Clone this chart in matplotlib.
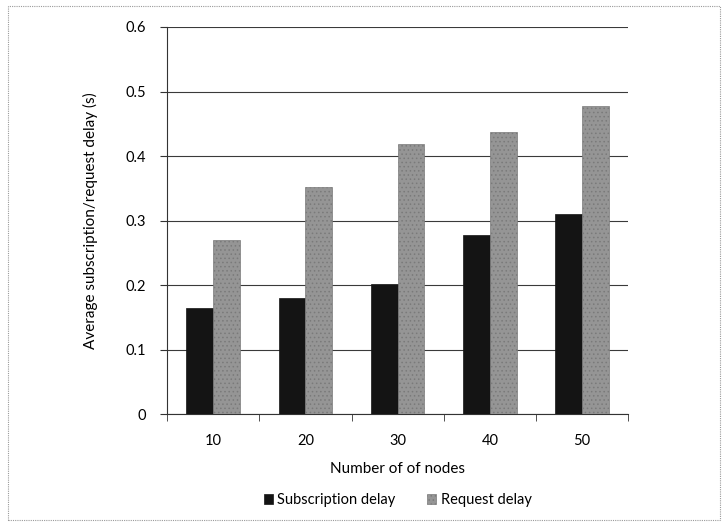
import matplotlib.pyplot as plt
import numpy as np
from matplotlib.patches import Rectangle

categories = ["10", "20", "30", "40", "50"]
subscription_delay = [0.165, 0.180, 0.202, 0.278, 0.310]
request_delay = [0.270, 0.352, 0.418, 0.438, 0.478]
y_ticks = [0, 0.1, 0.2, 0.3, 0.4, 0.5, 0.6]
y_tick_labels = ["0", "0.1", "0.2", "0.3", "0.4", "0.5", "0.6"]

plt.rcParams['font.family'] = ['Lato', 'DejaVu Sans']
plt.rcParams['hatch.color'] = '#6a6a6a'
plt.rcParams['hatch.linewidth'] = 0.6

fig = plt.figure(figsize=(7.23, 5.29), dpi=100)
ax = fig.add_axes([0.231, 0.217, 0.638, 0.732])

x = np.arange(len(categories))
w = 0.29
ax.bar(x - w / 2, subscription_delay, w, color='#141414', edgecolor='#141414',
       linewidth=0.5, label='Subscription delay', zorder=3)
ax.bar(x + w / 2, request_delay, w, color='#959595', edgecolor='#7a7a7a',
       linewidth=0.5, hatch='....', label='Request delay', zorder=3)

ax.set_xlim(-0.5, len(categories) - 0.5)
ax.set_ylim(0, 0.6)
ax.set_yticks(y_ticks)
ax.set_yticklabels(y_tick_labels)
ax.set_xticks(x)
ax.set_xticklabels(categories)
ax.set_xticks(np.arange(-0.5, len(categories)), minor=True)
ax.tick_params(axis='x', which='major', length=0, pad=14, labelsize=10.5)
ax.tick_params(axis='x', which='minor', length=5, direction='out', color='#333333')
ax.tick_params(axis='y', length=5, direction='out', labelsize=10.5, pad=10, color='#333333')

ax.yaxis.grid(True, color='#3a3a3a', linewidth=0.8, zorder=0)
for side in ['top', 'right']:
    ax.spines[side].set_visible(False)
ax.spines['left'].set_color('#333333')
ax.spines['bottom'].set_color('#333333')

ax.set_xlabel('Number of of nodes', fontsize=11, labelpad=10)
ax.set_ylabel('Average subscription/request delay (s)', fontsize=11, labelpad=20)

ax.legend(loc='upper center', bbox_to_anchor=(0.5, -0.17), ncol=2, frameon=False,
          fontsize=10.5, handlelength=0.6, handleheight=0.6, handletextpad=0.3,
          columnspacing=2.2)

fig.patches.append(Rectangle((0.011, 0.017), 0.985, 0.972, transform=fig.transFigure,
                             fill=False, edgecolor='#9a9a9a', linewidth=0.8,
                             linestyle=(0, (1, 1))))

fig.savefig('out.png', dpi=100)
